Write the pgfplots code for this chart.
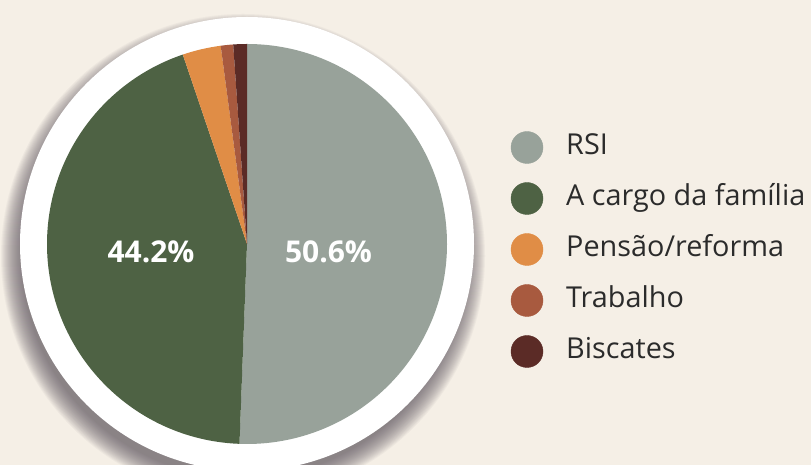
\documentclass[border=0pt]{standalone}
\usepackage{pgfplots}
\pgfplotsset{compat=1.18}
\usepackage{pgfplotstable}
\usepackage{fontspec}
\setmainfont{Open Sans}
\definecolor{bg}{HTML}{F5EFE6}
\definecolor{cRSI}{HTML}{98A29A}
\definecolor{cFam}{HTML}{4E6244}
\definecolor{cPen}{HTML}{E08D46}
\definecolor{cTra}{HTML}{A85A3F}
\definecolor{cBis}{HTML}{5B2B26}
\definecolor{txt}{HTML}{2B2B2B}
\definecolor{shadowc}{HTML}{5E5560}
\pgfplotstableread{
name value
RSI 50.6
Familia 44.2
Pensao 3.1
Trabalho 1.0
Biscates 1.1
}\piedata
\begin{document}
\begin{tikzpicture}
\begin{axis}[hide axis, scale only axis, width=811pt, height=465pt,
  xmin=0, xmax=811, ymin=0, ymax=465, clip=true]
\pgfplotsextra{
  \fill[bg] (axis cs:0,0) rectangle (axis cs:811,465);
  \foreach \k in {0,...,20}{
    \fill[shadowc, opacity=0.05] (axis cs:243,209) circle[radius={(222+\k)*1pt}];
  }
  \fill[white] (axis cs:247,221) circle[radius=227pt];
  \gdef\startang{90}
  \foreach \i/\c in {0/cRSI,1/cFam,2/cPen,3/cTra,4/cBis}{
    \pgfplotstablegetelem{\i}{value}\of\piedata
    \pgfmathsetmacro\endang{\startang-3.6*\pgfplotsretval}
    \fill[\c] (axis cs:247,221) -- ([shift={(\startang:200pt)}]axis cs:247,221)
       arc[start angle=\startang, end angle=\endang, radius=200pt] -- cycle;
    \xdef\startang{\endang}
  }
}
\node[anchor=base, inner sep=0pt, text=white, font=\bfseries\fontsize{30}{30}\selectfont] at (axis cs:151,202) {44.2\%};
\node[anchor=base, inner sep=0pt, text=white, font=\bfseries\fontsize{30}{30}\selectfont] at (axis cs:328.5,202) {50.6\%};
\addplot[only marks, mark=*, mark size=16pt, color=cRSI] coordinates {(527,317.5)};
\addplot[only marks, mark=*, mark size=16pt, color=cFam] coordinates {(527,266.5)};
\addplot[only marks, mark=*, mark size=16pt, color=cPen] coordinates {(527,215.5)};
\addplot[only marks, mark=*, mark size=16pt, color=cTra] coordinates {(527,164.5)};
\addplot[only marks, mark=*, mark size=16pt, color=cBis] coordinates {(527,113.5)};
\node[anchor=base west, inner sep=0pt, text=txt, font=\fontsize{28.8}{28.8}\selectfont] at (axis cs:566,310) {RSI};
\node[anchor=base west, inner sep=0pt, text=txt, font=\fontsize{28.8}{28.8}\selectfont] at (axis cs:566,259) {A cargo da família};
\node[anchor=base west, inner sep=0pt, text=txt, font=\fontsize{28.8}{28.8}\selectfont] at (axis cs:566,208) {Pensão/reforma};
\node[anchor=base west, inner sep=0pt, text=txt, font=\fontsize{28.8}{28.8}\selectfont] at (axis cs:566,157) {Trabalho};
\node[anchor=base west, inner sep=0pt, text=txt, font=\fontsize{28.8}{28.8}\selectfont] at (axis cs:566,106) {Biscates};
\end{axis}
\end{tikzpicture}
\end{document}
